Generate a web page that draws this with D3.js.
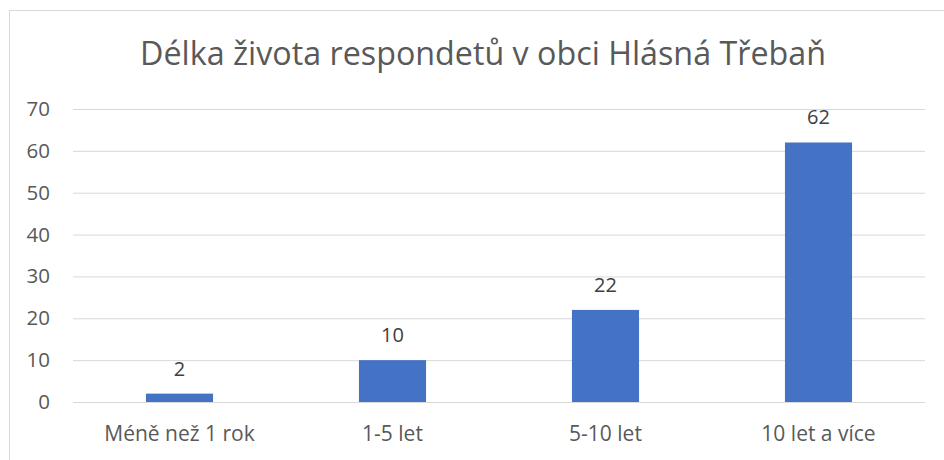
<!DOCTYPE html>
<html>
<head>
<meta charset="utf-8">
<script src="https://cdn.jsdelivr.net/npm/d3@7"></script>
<style>
  body { margin: 0; background: #fff; }
  svg { display: block; }
  text { font-family: "Open Sans", "Noto Sans", sans-serif; }
</style>
</head>
<body>
<div id="chart"></div>
<script>
// data
var categories = ["Méně než 1 rok", "1-5 let", "5-10 let", "10 let a více"];
var values = [2, 10, 22, 62];
var yTicks = [0, 10, 20, 30, 40, 50, 60, 70];
var title = "Délka života respondetů v obci Hlásná Třebaň";

var width = 944, height = 460;
var plotLeft = 73, plotRight = 925, plotTop = 109, plotBottom = 402;

var svg = d3.select("#chart").append("svg")
    .attr("width", width)
    .attr("height", height);

// chart frame
svg.append("rect")
    .attr("x", 9.5).attr("y", 10.5)
    .attr("width", 940).attr("height", 460)
    .attr("fill", "none")
    .attr("stroke", "#d9d9d9");

var x = d3.scaleBand()
    .domain(categories)
    .range([plotLeft, plotRight])
    .paddingInner(0.685)
    .paddingOuter(0.3425);

var y = d3.scaleLinear()
    .domain([0, 70])
    .range([plotBottom, plotTop]);

// gridlines + y labels
var yAxis = d3.axisLeft(y)
    .tickValues(yTicks)
    .tickSize(-(plotRight - plotLeft))
    .tickPadding(23);

var ga = svg.append("g")
    .attr("transform", "translate(" + plotLeft + ",0)")
    .call(yAxis);
ga.select(".domain").remove();
ga.selectAll(".tick line").attr("stroke", "#d9d9d9").attr("stroke-width", 1);
ga.selectAll(".tick text")
    .attr("fill", "#595959")
    .style("font-size", "20.5px");

// bars
svg.selectAll(".bar")
    .data(values)
    .enter().append("rect")
    .attr("class", "bar")
    .attr("x", function(d, i) { return x(categories[i]); })
    .attr("y", function(d) { return y(d); })
    .attr("width", x.bandwidth())
    .attr("height", function(d) { return y(0) - y(d); })
    .attr("fill", "#4472C4");

// data labels
svg.selectAll(".lbl")
    .data(values)
    .enter().append("text")
    .attr("class", "lbl")
    .attr("x", function(d, i) { return x(categories[i]) + x.bandwidth() / 2; })
    .attr("y", function(d) { return y(d) - 18; })
    .attr("text-anchor", "middle")
    .attr("fill", "#404040")
    .style("font-size", "20px")
    .text(function(d) { return d; });

// category labels
svg.selectAll(".cat")
    .data(categories)
    .enter().append("text")
    .attr("class", "cat")
    .attr("x", function(d) { return x(d) + x.bandwidth() / 2; })
    .attr("y", 441)
    .attr("text-anchor", "middle")
    .attr("fill", "#595959")
    .style("font-size", "21px")
    .text(function(d) { return d; });

// title, fitted to the width seen in the picture
var t = svg.append("text")
    .attr("x", 483)
    .attr("y", 65)
    .attr("text-anchor", "middle")
    .attr("fill", "#595959")
    .style("font-size", "30px")
    .text(title);
var w = t.node().getComputedTextLength();
t.style("font-size", (30 * 686 / w) + "px");
</script>
</body>
</html>
